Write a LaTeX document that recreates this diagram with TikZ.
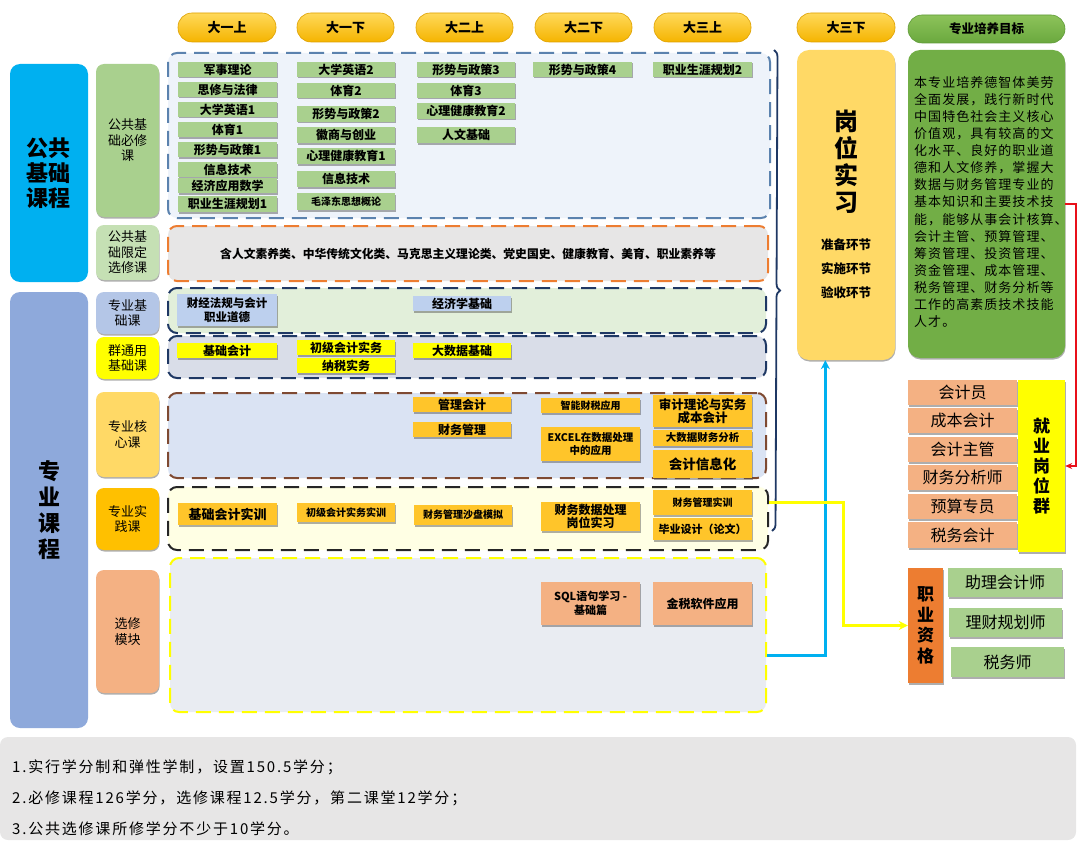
\documentclass[tikz,border=0pt]{standalone}
\usepackage{fontspec}
\setmainfont{Noto Sans CJK SC}
\newfontfamily\goalfont[LetterSpace=8]{Noto Sans CJK SC}
\newfontfamily\notefont[LetterSpace=12]{Noto Sans CJK SC}
\usetikzlibrary{shadows,arrows.meta,decorations.pathreplacing,calc}
\definecolor{pillTop}{HTML}{FFD95A}
\definecolor{pillBot}{HTML}{F5B400}
\definecolor{pillLine}{HTML}{DDA000}
\definecolor{gpTop}{HTML}{8DC35A}
\definecolor{gpBot}{HTML}{6AA83E}
\definecolor{goalLine}{HTML}{5E9A38}
\definecolor{cyanB}{HTML}{00B0F0}
\definecolor{profB}{HTML}{8EA9DB}
\definecolor{grA}{HTML}{A9D08E}
\definecolor{grB}{HTML}{C5E0B4}
\definecolor{blA}{HTML}{B4C6E7}
\definecolor{blC}{HTML}{BDD0EE}
\definecolor{yelA}{HTML}{FFFF00}
\definecolor{yloA}{HTML}{FFD966}
\definecolor{orgA}{HTML}{FFC000}
\definecolor{orgC}{HTML}{FFC52A}
\definecolor{salA}{HTML}{F4B183}
\definecolor{dorgA}{HTML}{ED7D31}
\definecolor{goalA}{HTML}{72AE46}
\definecolor{rOneF}{HTML}{EEF3FA}
\definecolor{rOneD}{HTML}{5B82AE}
\definecolor{rTwoF}{HTML}{E7E6E6}
\definecolor{rThrF}{HTML}{E2EFDA}
\definecolor{navyA}{HTML}{1F3864}
\definecolor{rFouF}{HTML}{D9DDE8}
\definecolor{rFivF}{HTML}{DAE3F3}
\definecolor{brnA}{HTML}{7F4A32}
\definecolor{rSixF}{HTML}{FFFFE4}
\definecolor{rSevF}{HTML}{E9ECF2}
\definecolor{noteF}{HTML}{E7E6E6}
\definecolor{redA}{HTML}{E8101A}
\newcommand\rb[7][]{\node[box,#1,minimum width={#4-#2},minimum height={#5-#3}] (#6) at ({(#2+#4)/2},{(#3+#5)/2}) {#7};}
\begin{document}
\begin{tikzpicture}[x=1pt,y=-1pt,
  box/.style={inner sep=0pt, align=center},
  pill/.style={rounded corners=14pt, draw=pillLine, line width=0.6pt, top color=pillTop, bottom color=pillBot, font=\bfseries\fontsize{13}{15}\selectfont},
  gpill/.style={rounded corners=14pt, draw=goalLine, line width=0.6pt, top color=gpTop, bottom color=gpBot, font=\bfseries\fontsize{12.5}{15}\selectfont},
  sh/.style={drop shadow={shadow xshift=0.5pt,shadow yshift=-1.5pt,opacity=0.45,fill=black!70}},
  lab/.style={rounded corners=8pt, sh, font=\fontsize{13}{15.5}\selectfont},
  region/.style={rounded corners=9pt, dash pattern=on 15pt off 8pt, line width=2pt},
  cb/.style={sh, font=\bfseries\fontsize{12}{13.5}\selectfont},
  gb/.style={cb, fill=grA},
  bb/.style={cb, fill=blC},
  yb/.style={cb, fill=yelA},
  ob/.style={cb, fill=orgC},
  sb/.style={cb, fill=salA},
  jb/.style={sh, fill=salA, font=\fontsize{16}{18}\selectfont},
  qb/.style={sh, fill=grA, font=\fontsize{16}{18}\selectfont},
  fs/.style={font=\bfseries\fontsize{#1}{13.5}\selectfont},
  note/.style={anchor=west, inner sep=0pt, font=\notefont\fontsize{15}{17}\selectfont}
]
\useasboundingbox (0,0) rectangle (1078,840);
% header pills
\rb[pill]{178}{13}{276}{42}{P1}{大一上}
\rb[pill]{297}{13}{394}{42}{P2}{大一下}
\rb[pill]{416}{13}{513}{42}{P3}{大二上}
\rb[pill]{535}{13}{632}{42}{P4}{大二下}
\rb[pill]{654}{13}{751}{42}{P5}{大三上}
\rb[pill]{797}{13}{895}{42}{P6}{大三下}
\rb[gpill]{908}{15}{1065}{43}{P7}{专业培养目标}
% left big blocks
\rb[rounded corners=10pt, fill=cyanB, font=\bfseries\fontsize{22}{25}\selectfont]{10}{64}{88}{282}{L1}{公共\\基础\\课程}
\rb[rounded corners=10pt, fill=profB, font=\bfseries\fontsize{22}{26}\selectfont]{10}{292}{88}{728}{L2}{专\\业\\课\\程}
% second column labels
\rb[lab, fill=grA]{96}{64}{159}{217}{M1}{公共基\\础必修\\课}
\rb[lab, fill=grB]{96}{225}{159}{280}{M2}{公共基\\础限定\\选修课}
\rb[lab, fill=blA]{96}{292}{159}{334}{M3}{专业基\\础课}
\rb[lab, fill=yelA]{96}{337}{159}{379}{M4}{群通用\\基础课}
\rb[lab, fill=yloA]{96}{392}{159}{477}{M5}{专业核\\心课}
\rb[lab, fill=orgA]{96}{488}{159}{550}{M6}{专业实\\践课}
\rb[lab, fill=salA]{96}{570}{159}{693}{M7}{选修\\模块}
% regions
\rb[region, fill=rOneF, draw=rOneD]{168}{53}{770}{218}{R1}{}
\rb[region, fill=rTwoF, draw=dorgA, font=\bfseries\fontsize{11.8}{14}\selectfont]{168}{226}{768}{281}{R2}{含人文素养类、中华传统文化类、马克思主义理论类、党史国史、健康教育、美育、职业素养等}
\rb[region, fill=rThrF, draw=navyA]{168}{288}{766}{333}{R3}{}
\rb[region, fill=rFouF, draw=navyA]{168}{336}{766}{378}{R4}{}
\rb[region, fill=rFivF, draw=brnA]{168}{393}{766}{478}{R5}{}
\rb[region, fill=rSixF, draw=black!85]{168}{487}{768}{550}{R6}{}
\rb[region, fill=rSevF, draw=yelA]{170}{558}{766}{712}{R7}{}
% public required courses
\rb[gb]{178}{62}{277}{77}{a1}{军事理论}
\rb[gb]{178}{82}{277}{97}{a2}{思修与法律}
\rb[gb]{178}{102}{277}{117}{a3}{大学英语1}
\rb[gb]{178}{122}{277}{137}{a4}{体育1}
\rb[gb]{178}{142}{277}{157}{a5}{形势与政策1}
\rb[gb]{178}{162}{277}{177}{a6}{信息技术}
\rb[gb]{178}{178}{277}{193}{a7}{经济应用数学}
\rb[gb]{178}{196}{277}{212}{a8}{职业生涯规划1}
\rb[gb]{297}{62}{395}{77}{b1}{大学英语2}
\rb[gb]{297}{83}{395}{98}{b2}{体育2}
\rb[gb]{297}{106}{395}{122}{b3}{形势与政策2}
\rb[gb]{297}{127}{395}{143}{b4}{徽商与创业}
\rb[gb]{297}{148}{395}{164}{b5}{心理健康教育1}
\rb[gb]{297}{171}{395}{187}{b6}{信息技术}
\rb[gb, fs=10]{297}{193}{395}{210}{b7}{毛泽东思想概论}
\rb[gb]{417}{62}{515}{77}{c1}{形势与政策3}
\rb[gb]{417}{83}{515}{98}{c2}{体育3}
\rb[gb]{417}{103}{515}{119}{c3}{心理健康教育2}
\rb[gb]{417}{127}{515}{143}{c4}{人文基础}
\rb[gb]{533}{62}{632}{77}{d1}{形势与政策4}
\rb[gb]{653}{62}{752}{77}{e1}{职业生涯规划2}
% professional basics
\rb[bb, fs=11.5]{177}{294}{277}{326}{f1}{财经法规与会计\\职业道德}
\rb[bb]{413}{296}{511}{311}{f2}{经济学基础}
\rb[yb]{177}{343}{277}{358}{g1}{基础会计}
\rb[yb]{297}{340}{395}{355}{g2}{初级会计实务}
\rb[yb]{297}{358}{395}{373}{g3}{纳税实务}
\rb[yb]{413}{343}{511}{358}{g4}{大数据基础}
% core
\rb[ob]{413}{397}{511}{412}{h1}{管理会计}
\rb[ob]{413}{422}{511}{437}{h2}{财务管理}
\rb[ob, fs=10]{541}{398}{640}{413}{h3}{智能财税应用}
\rb[ob, fs=10.5]{541}{427}{640}{461}{h4}{EXCEL在数据处理\\中的应用}
\rb[ob, fs=12.5]{653}{395}{752}{427}{h5}{审计理论与实务\\成本会计}
\rb[ob, fs=10.5]{653}{430}{752}{446}{h6}{大数据财务分析}
\rb[ob, fs=13.5]{653}{450}{752}{478}{h7}{会计信息化}
% practice
\rb[ob, fs=13]{178}{503}{277}{525}{k1}{基础会计实训}
\rb[ob, fs=10]{297}{503}{395}{522}{k2}{初级会计实务实训}
\rb[ob, fs=10]{414}{505}{512}{525}{k3}{财务管理沙盘模拟}
\rb[ob, fs=12]{541}{502}{640}{531}{k4}{财务数据处理\\岗位实习}
\rb[ob, fs=10]{653}{490}{752}{515}{k5}{财务管理实训}
\rb[ob, fs=11]{653}{518}{752}{540}{k6}{毕业设计（论文）}
% electives
\rb[sb, fs=11]{541}{582}{640}{625}{m1}{SQL语句学习 -\\基础篇}
\rb[sb, fs=12]{653}{582}{752}{625}{m2}{金税软件应用}
% internship
\rb[rounded corners=12pt, fill=yloA, sh]{797}{50}{895}{360}{GW}{}
\node[box, font=\bfseries\fontsize{24}{27}\selectfont] (GWt) at (846,162) {岗\\位\\实\\习};
\node[box, font=\bfseries\fontsize{12.5}{24}\selectfont] (GWs) at (846,269) {准备环节\\实施环节\\验收环节};
% goal
\rb[rounded corners=12pt, fill=goalA, sh]{908}{50}{1065}{358}{GB}{}
\node[anchor=north west, inner sep=0pt, align=left, font=\goalfont\fontsize{13}{17.1}\selectfont] (GBt) at (914,76) {本专业培养德智体美劳\\全面发展，践行新时代\\中国特色社会主义核心\\价值观，具有较高的文\\化水平、良好的职业道\\德和人文修养，掌握大\\数据与财务管理专业的\\基本知识和主要技术技\\能，能够从事会计核算、\\会计主管、预算管理、\\筹资管理、投资管理、\\资金管理、成本管理、\\税务管理、财务分析等\\工作的高素质技术技能\\人才。};
% jobs
\rb[jb]{908}{380}{1017}{405}{j1}{会计员}
\rb[jb]{908}{408}{1017}{433}{j2}{成本会计}
\rb[jb]{908}{437}{1017}{462}{j3}{会计主管}
\rb[jb]{908}{465}{1017}{490}{j4}{财务分析师}
\rb[jb]{908}{494}{1017}{519}{j5}{预算专员}
\rb[jb]{908}{522}{1017}{548}{j6}{税务会计}
\rb[sh, fill=yelA, font=\bfseries\fontsize{17}{20}\selectfont]{1018}{380}{1065}{552}{JG}{就\\业\\岗\\位\\群}
\rb[sh, fill=dorgA, font=\bfseries\fontsize{17}{20.5}\selectfont]{908}{568}{943}{683}{ZZ}{职\\业\\资\\格}
\rb[qb]{948}{568}{1062}{597}{q1}{助理会计师}
\rb[qb]{949}{608}{1062}{637}{q2}{理财规划师}
\rb[qb]{951}{647}{1064}{677}{q3}{税务师}
% notes
\rb[rounded corners=8pt, fill=noteF]{0}{737}{1076}{840}{NB}{}
\node[note] (n1) at (12,767) {1.实行学分制和弹性学制，设置150.5学分；};
\node[note] (n2) at (12,798) {2.必修课程126学分，选修课程12.5学分，第二课堂12学分；};
\node[note] (n3) at (12,829) {3.公共选修课所修学分不少于10学分。};
% brace
\draw[navyA, line width=1.8pt, decorate, decoration={brace, amplitude=7pt}] ($(R1.north east)+(3,-2)$) -- ($(R6.south east)+(3,-20)$);
% connectors
\draw[redA, line width=1.5pt, -{Stealth[length=7pt,width=6pt]}] (GB.east) -- ++(11,0) |- (JG.east);
\draw[cyanB, line width=3pt, -{Stealth[length=9pt,width=9pt]}] ($(R7.north east)!0.63!(R7.south east)$) -| ($(GW.south west)!0.29!(GW.south east)$);
\draw[yelA, line width=3pt, -{Stealth[length=9pt,width=9pt]}] ($(R6.north east)!0.25!(R6.south east)$) -- ++(74,0) |- (ZZ.west);
\end{tikzpicture}
\end{document}
